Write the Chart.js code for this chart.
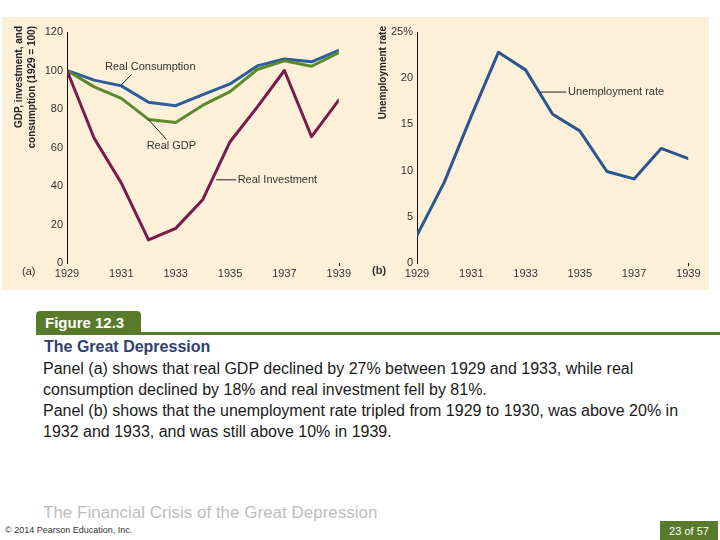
<!DOCTYPE html>
<html><head><meta charset="utf-8">
<script src="https://cdn.jsdelivr.net/npm/chart.js@4"></script>
<style>
html,body{margin:0;padding:0;background:#fff;width:720px;height:540px;overflow:hidden;font-family:"Liberation Sans",Arial,sans-serif;}
#panel{position:absolute;left:2px;top:17px;width:707px;height:273px;background:#fdf0d9;}
#c1{position:absolute;left:0;top:17px;}
#c2{position:absolute;left:355px;top:17px;}
#tab{position:absolute;left:36px;top:311px;width:105px;height:23px;background:#5a7a2b;border-radius:4px 4px 0 0;color:#fff;font-weight:bold;font-size:15px;line-height:24px;padding-left:9px;box-sizing:border-box;}
#rule{position:absolute;left:36px;top:332px;width:684px;height:3px;background:#5a7a2b;}
#ttl{position:absolute;left:44px;top:338px;font-size:16px;font-weight:bold;color:#2f3f72;}
#body{position:absolute;left:43px;top:358px;font-size:16px;line-height:21px;color:#1a1a1a;width:680px;white-space:nowrap;}
#foot{position:absolute;left:43px;top:503px;font-size:17px;color:#bdbdbd;}
#copy{position:absolute;left:5px;top:525px;font-size:9px;color:#333;}
#page{position:absolute;left:660px;top:521px;width:58px;height:19px;background:#5a7a2b;color:#fff;font-size:11px;line-height:20px;text-align:center;}
</style></head>
<body>
<div id="panel"></div>
<canvas id="c1" width="355" height="273"></canvas>
<canvas id="c2" width="355" height="273"></canvas>
<div id="tab">Figure 12.3</div>
<div id="rule"></div>
<div id="ttl">The Great Depression</div>
<div id="body">Panel (a) shows that real GDP declined by 27% between 1929 and 1933, while real<br>consumption declined by 18% and real investment fell by 81%.<br>Panel (b) shows that the unemployment rate tripled from 1929 to 1930, was above 20% in<br>1932 and 1933, and was still above 10% in 1939.</div>
<div id="foot">The Financial Crisis of the Great Depression</div>
<div id="copy">© 2014 Pearson Education, Inc.</div>
<div id="page">23 of 57</div>
<script>
const years = [1929,1930,1931,1932,1933,1934,1935,1936,1937,1938,1939];
const realConsumption = [100,95,92,83.5,81.7,87.5,93,102.4,106,104.5,110.5];
const realGDP = [100,91.5,85.5,74.6,73,82,89,100.5,105,102.2,109.3];
const realInvestment = [100,64.8,41.5,12,18,33,63,81,100,65.6,84.6];
const unemploymentRate = [3,8.7,15.9,22.8,20.9,16.1,14.3,9.9,9.1,12.4,11.3];
const leftTicks = [0,20,40,60,80,100,120];
const rightTicks = [0,5,10,15,20,25];

const FONT = '"Liberation Sans", Arial, sans-serif';
Chart.defaults.font.family = FONT;
Chart.defaults.animation = false;

function pts(vals){ return years.map((y,i)=>({x:y,y:vals[i]})); }

function makeOpts(ticksArr, tickCb, padRight, yWidth){
  return {
    responsive:false, animation:false,
    layout:{padding:{left:0,right:padRight,top:15,bottom:0}},
    plugins:{legend:{display:false},tooltip:{enabled:false}},
    elements:{point:{radius:0},line:{tension:0,borderJoinStyle:'round',borderCapStyle:'round'}},
    scales:{
      x:{type:'linear',min:years[0],max:years[years.length-1],
        grid:{display:false,drawTicks:false},border:{display:false},
        ticks:{stepSize:2,color:'#333',font:{size:11},padding:4,maxRotation:0,callback:v=>String(v)},
        afterFit:s=>{s.height=27;}},
      y:{min:ticksArr[0],max:ticksArr[ticksArr.length-1],
        grid:{display:false,drawTicks:false},border:{display:true,color:'#111',width:1},
        ticks:{stepSize:ticksArr[1]-ticksArr[0],color:'#333',font:{size:11},padding:4,callback:tickCb},
        afterFit:s=>{s.width=yWidth;}}
    }
  };
}

function annot(items){
  return {id:'annot',afterDraw(chart){
    const c=chart.ctx;
    c.save();
    items(chart,c);
    const xs=chart.scales.x, b=chart.chartArea.bottom;
    const xe=Math.round(xs.getPixelForValue(years[years.length-1]))+0.5;
    c.strokeStyle='#222'; c.lineWidth=1;
    c.beginPath(); c.moveTo(xe,b); c.lineTo(xe,b+3); c.stroke();
    c.restore();
  }};
}

new Chart(document.getElementById('c1'),{
  type:'line',
  data:{datasets:[
    {data:pts(realInvestment),borderColor:'#7a1a4b',borderWidth:3},
    {data:pts(realGDP),borderColor:'#5b8a2d',borderWidth:3},
    {data:pts(realConsumption),borderColor:'#2b5c9c',borderWidth:3}
  ]},
  options:makeOpts(leftTicks,v=>String(v),15,67),
  plugins:[annot((ch,c)=>{
    const xs=ch.scales.x, ys=ch.scales.y;
    c.fillStyle='#333'; c.strokeStyle='#222'; c.lineWidth=1;
    c.font='11px '+FONT; c.textBaseline='middle'; c.textAlign='left';
    c.fillText('Real Consumption', xs.getPixelForValue(1930.4), ys.getPixelForValue(102));
    c.fillText('Real GDP', xs.getPixelForValue(1931.93), ys.getPixelForValue(61));
    c.fillText('Real Investment', xs.getPixelForValue(1935.28), ys.getPixelForValue(43.2));
    c.beginPath();
    c.moveTo(xs.getPixelForValue(1931.38), ys.getPixelForValue(98));
    c.lineTo(xs.getPixelForValue(1931.0), ys.getPixelForValue(92.5));
    c.moveTo(xs.getPixelForValue(1932.66), ys.getPixelForValue(64.2));
    c.lineTo(xs.getPixelForValue(1931.99), ys.getPixelForValue(74.6));
    c.moveTo(xs.getPixelForValue(1934.49), ys.getPixelForValue(43.2));
    c.lineTo(xs.getPixelForValue(1935.22), ys.getPixelForValue(43.2));
    c.stroke();
    c.fillText('(a)', 22, ys.getPixelForValue(0)+9);
    c.fillStyle='#222'; c.font='bold 10px '+FONT; c.textAlign='right';
    c.save(); c.translate(19,9); c.rotate(-Math.PI/2);
    c.fillText('GDP, investment, and',0,0); c.restore();
    c.save(); c.translate(32,9); c.rotate(-Math.PI/2);
    c.fillText('consumption (1929 = 100)',0,0); c.restore();
  })]
});

new Chart(document.getElementById('c2'),{
  type:'line',
  data:{datasets:[
    {data:pts(unemploymentRate),borderColor:'#2b5590',borderWidth:3}
  ]},
  options:makeOpts(rightTicks,v=>v===25?'25%':String(v),21.7,62),
  plugins:[annot((ch,c)=>{
    const xs=ch.scales.x, ys=ch.scales.y;
    c.fillStyle='#333'; c.strokeStyle='#222'; c.lineWidth=1;
    c.font='11px '+FONT; c.textBaseline='middle'; c.textAlign='left';
    c.fillText('Unemployment rate', xs.getPixelForValue(1934.57), ys.getPixelForValue(18.5));
    c.beginPath();
    c.moveTo(xs.getPixelForValue(1933.54), ys.getPixelForValue(18.5));
    c.lineTo(xs.getPixelForValue(1934.5), ys.getPixelForValue(18.5));
    c.stroke();
    c.font='bold 11px '+FONT;
    c.fillText('(b)', 17, ys.getPixelForValue(0)+8);
    c.fillStyle='#222'; c.font='bold 10px '+FONT; c.textAlign='right';
    c.save(); c.translate(28,9); c.rotate(-Math.PI/2);
    c.fillText('Unemployment rate',0,0); c.restore();
  })]
});
</script>
</body></html>
